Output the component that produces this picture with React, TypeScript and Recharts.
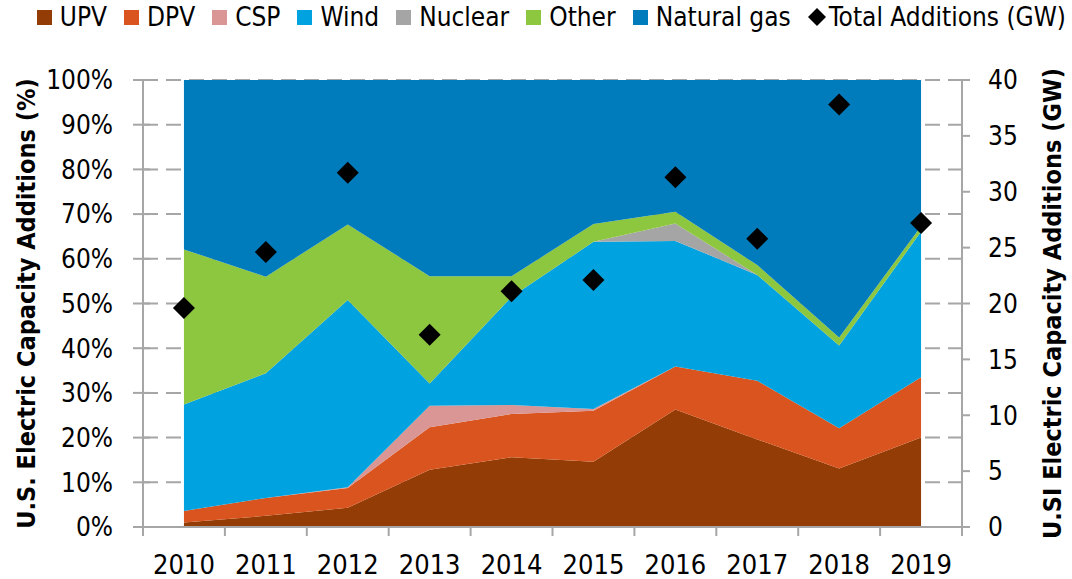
import {
  ComposedChart,
  Area,
  Scatter,
  XAxis,
  YAxis,
  CartesianGrid,
  Label,
} from "recharts";

// share of annual US capacity additions (%), stacked bottom to top
const years = ["2010", "2011", "2012", "2013", "2014", "2015", "2016", "2017", "2018", "2019"];
const upv = [1.0, 2.5, 4.3, 12.8, 15.6, 14.6, 26.3, 19.6, 13.1, 20.0];
const dpv = [2.6, 4.0, 4.4, 9.5, 9.7, 11.4, 9.6, 13.1, 9.0, 13.5];
const csp = [0, 0, 0.2, 4.8, 2.0, 0.4, 0, 0, 0, 0];
const wind = [23.8, 27.9, 41.9, 5.0, 24.2, 37.4, 28.1, 23.7, 18.5, 32.6];
const nuclear = [0, 0, 0, 0, 0, 0, 3.9, 0, 0, 0];
const other = [34.7, 21.6, 16.9, 24.0, 4.6, 4.0, 2.6, 2.2, 1.8, 1.2];
const naturalGas = [37.9, 44.0, 32.3, 43.9, 43.9, 32.2, 29.5, 41.4, 57.6, 32.7];

// total additions, GW (right axis)
const totalGW = [19.6, 24.6, 31.7, 17.2, 21.1, 22.1, 31.3, 25.8, 37.8, 27.2];

const pctTicks = [0, 10, 20, 30, 40, 50, 60, 70, 80, 90, 100];
const gwTicks = [0, 5, 10, 15, 20, 25, 30, 35, 40];

const series = [
  { key: "upv", name: "UPV", color: "#943c06" },
  { key: "dpv", name: "DPV", color: "#d9541e" },
  { key: "csp", name: "CSP", color: "#d99694" },
  { key: "wind", name: "Wind", color: "#00a3e0" },
  { key: "nuclear", name: "Nuclear", color: "#a5a5a5" },
  { key: "other", name: "Other", color: "#8dc63f" },
  { key: "gas", name: "Natural gas", color: "#007bbb" },
];

const data = years.map((year, i) => ({
  year,
  upv: upv[i],
  dpv: dpv[i],
  csp: csp[i],
  wind: wind[i],
  nuclear: nuclear[i],
  other: other[i],
  gas: naturalGas[i],
  total: totalGW[i],
}));

const FONT = "'DejaVu Sans Condensed', 'Liberation Sans Narrow', 'Liberation Sans', sans-serif";
const GRAY = "#a6a6a6";
const W = 1072;
const H = 579;
const LEFT_W = 143;
const RIGHT_W = 110;
const BAND = (W - LEFT_W - RIGHT_W) / years.length;

function YearTick(props: any) {
  const { x, y, payload, index } = props;
  const half = BAND / 2;
  return (
    <g>
      <line x1={x - half} x2={x - half} y1={y} y2={y + 9} stroke={GRAY} strokeWidth={2} />
      {index === years.length - 1 && (
        <line x1={x + half} x2={x + half} y1={y} y2={y + 9} stroke={GRAY} strokeWidth={2} />
      )}
      <text x={x} y={y + 47} textAnchor="middle" fontSize={27} fontFamily={FONT} fill="#000">
        {payload.value}
      </text>
    </g>
  );
}

function PctTick(props: any) {
  const { x, y, payload } = props;
  return (
    <g>
      <line x1={x - 10} x2={x + 7} y1={y} y2={y} stroke={GRAY} strokeWidth={2} />
      <text x={x - 30} y={y} dy="0.36em" textAnchor="end" fontSize={26} fontFamily={FONT} fill="#000">
        {payload.value}%
      </text>
    </g>
  );
}

function GwTick(props: any) {
  const { x, y, payload } = props;
  return (
    <g>
      <line x1={x} x2={x + 8} y1={y} y2={y} stroke={GRAY} strokeWidth={2} />
      <text x={x + 26} y={y} dy="0.36em" textAnchor="start" fontSize={26} fontFamily={FONT} fill="#000">
        {payload.value}
      </text>
    </g>
  );
}

function Diamond(props: any) {
  const { cx, cy } = props;
  if (cx == null || cy == null) return null;
  const r = 11;
  return (
    <polygon
      points={`${cx},${cy - r} ${cx + r},${cy} ${cx},${cy + r} ${cx - r},${cy}`}
      fill="#000"
    />
  );
}

function AxisTitle({ viewBox, value, dx }: any) {
  const cx = viewBox.x + dx;
  const cy = viewBox.y + viewBox.height / 2;
  return (
    <text
      x={cx}
      y={cy}
      transform={`rotate(-90 ${cx} ${cy})`}
      textAnchor="middle"
      dy="0.36em"
      fontSize={25}
      fontWeight="bold"
      fontFamily={FONT}
      fill="#000"
    >
      {value}
    </text>
  );
}

function Legend() {
  return (
    <div
      style={{
        position: "absolute",
        top: 0,
        right: W - 1066,
        height: 34,
        display: "flex",
        alignItems: "center",
        fontFamily: FONT,
        fontSize: 26,
        whiteSpace: "nowrap",
        color: "#000",
      }}
    >
      {series.map((s) => (
        <div key={s.key} style={{ display: "flex", alignItems: "center", marginRight: 17 }}>
          <span style={{ width: 15, height: 15, background: s.color, marginRight: 8 }} />
          <span>{s.name}</span>
        </div>
      ))}
      <div style={{ display: "flex", alignItems: "center" }}>
        <svg width={18} height={18} style={{ marginRight: 3 }}>
          <polygon points="9,0 18,9 9,18 0,9" fill="#000" />
        </svg>
        <span>Total Additions (GW)</span>
      </div>
    </div>
  );
}

export default function App() {
  return (
    <div style={{ position: "absolute", left: 0, top: 0, width: W, height: H, background: "#fff" }}>
      <ComposedChart
        width={W}
        height={H}
        data={data}
        margin={{ top: 80, right: 0, bottom: 0, left: 0 }}
      >
        <CartesianGrid
          yAxisId="left"
          vertical={false}
          stroke={GRAY}
          strokeWidth={2}
          strokeDasharray="15 8"
        />
        <XAxis
          dataKey="year"
          height={52}
          padding={{ left: BAND / 2, right: BAND / 2 }}
          tickSize={0}
          tickMargin={0}
          tick={<YearTick />}
          axisLine={{ stroke: GRAY, strokeWidth: 2 }}
          interval={0}
        />
        <YAxis
          yAxisId="left"
          width={LEFT_W}
          domain={[0, 100]}
          ticks={pctTicks}
          tickSize={0}
          tickMargin={0}
          tick={<PctTick />}
          axisLine={{ stroke: GRAY, strokeWidth: 2 }}
          interval={0}
        >
          <Label
            content={(p: any) => (
              <AxisTitle viewBox={p.viewBox} dx={26} value="U.S. Electric Capacity Additions (%)" />
            )}
          />
        </YAxis>
        <YAxis
          yAxisId="right"
          orientation="right"
          width={RIGHT_W}
          domain={[0, 40]}
          ticks={gwTicks}
          tickSize={0}
          tickMargin={0}
          tick={<GwTick />}
          axisLine={{ stroke: GRAY, strokeWidth: 2 }}
          interval={0}
        >
          <Label
            content={(p: any) => (
              <AxisTitle viewBox={p.viewBox} dx={90} value="U.SI Electric Capacity Additions (GW)" />
            )}
          />
        </YAxis>
        {series.map((s) => (
          <Area
            key={s.key}
            yAxisId="left"
            type="linear"
            dataKey={s.key}
            name={s.name}
            stackId="share"
            fill={s.color}
            fillOpacity={1}
            stroke="none"
            isAnimationActive={false}
          />
        ))}
        <Scatter
          yAxisId="right"
          dataKey="total"
          name="Total Additions (GW)"
          shape={<Diamond />}
          isAnimationActive={false}
        />
      </ComposedChart>
      <Legend />
    </div>
  );
}
